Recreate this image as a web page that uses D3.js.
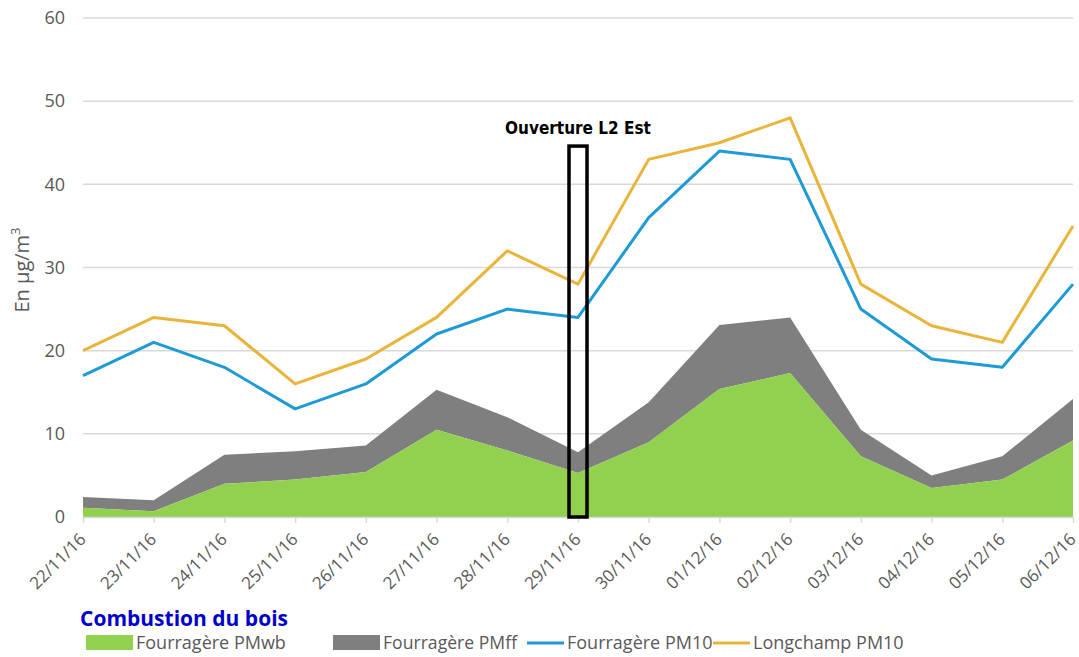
<!DOCTYPE html>
<html>
<head>
<meta charset="utf-8">
<script src="https://cdn.jsdelivr.net/npm/d3@7"></script>
<style>
  body { margin:0; background:#fff; }
  svg { font-family: "Open Sans", sans-serif; }
</style>
</head>
<body>
<div id="chart-area"></div>
<script>
// data
const dates = ["22/11/16","23/11/16","24/11/16","25/11/16","26/11/16","27/11/16","28/11/16",
  "29/11/16","30/11/16","01/12/16","02/12/16","03/12/16","04/12/16","05/12/16","06/12/16"];
const pmwb = [1.1, 0.7, 4.0, 4.5, 5.4, 10.5, 8.0, 5.3, 9.0, 15.4, 17.3, 7.3, 3.5, 4.5, 9.2];
const pmff = [1.3, 1.3, 3.5, 3.4, 3.2, 4.8, 4.0, 2.5, 4.8, 7.7, 6.7, 3.2, 1.5, 2.8, 5.0];
const pm10Fourragere = [17, 21, 18, 13, 16, 22, 25, 24, 36, 44, 43, 25, 19, 18, 28];
const pm10Longchamp = [20, 24, 23, 16, 19, 24, 32, 28, 43, 45, 48, 28, 23, 21, 35];
const yTicks = [0, 10, 20, 30, 40, 50, 60];
const eventDate = "29/11/16";
const eventLabel = "Ouverture L2 Est";

const margin = { left:83, right:6, top:18, bottom:140 };
const W = 1079, H = 657;
const width = W - margin.left - margin.right,
    height = H - margin.top - margin.bottom;

const colGreen = "#92d050", colGrey = "#7f7f7f", colBlue = "#1e9ad6", colOrange = "#e9b43a", txt = "#595959";

var svg = d3.select("#chart-area")
    .append("svg")
    .attr("width", W)
    .attr("height", H);

const g = svg.append("g")
    .attr("transform", "translate(" + margin.left + ", " + margin.top + ")");

const x = d3.scalePoint().domain(dates).range([0, width]);
const y = d3.scaleLinear().domain([0, 60]).range([height, 0]);

// gridlines
g.selectAll(".grid").data(yTicks.filter(d => d > 0)).enter()
  .append("line")
    .attr("x1", 0).attr("x2", width)
    .attr("y1", d => y(d)).attr("y2", d => y(d))
    .attr("stroke", "#d9d9d9").attr("stroke-width", 1.5);

// y tick labels
g.selectAll(".ylab").data(yTicks).enter()
  .append("text")
    .attr("x", -18).attr("y", d => y(d)).attr("dy", "0.35em")
    .attr("text-anchor", "end")
    .attr("font-size", "18px").attr("fill", txt)
    .text(d => d);

// stacked areas
const stack = dates.map((d, i) => ({ d: d, wb: pmwb[i], top: pmwb[i] + pmff[i] }));
g.append("path").datum(stack)
  .attr("fill", colGrey)
  .attr("d", d3.area().x(d => x(d.d)).y0(d => y(d.wb)).y1(d => y(d.top)));
g.append("path").datum(stack)
  .attr("fill", colGreen)
  .attr("d", d3.area().x(d => x(d.d)).y0(y(0)).y1(d => y(d.wb)));

// x axis
var xAxisCall = d3.axisBottom(x).tickSize(6).tickSizeOuter(0).tickPadding(4);
const xa = g.append("g")
    .attr("class", "x axis")
    .attr("transform", "translate(0, " + height + ")")
    .call(xAxisCall);
xa.select(".domain").attr("stroke", "#d9d9d9").attr("stroke-width", 1.5);
xa.selectAll(".tick line").attr("stroke", "#d9d9d9").attr("stroke-width", 1.5);
xa.selectAll(".tick text")
    .attr("font-size", "17px").attr("fill", txt)
    .attr("font-family", "Open Sans, sans-serif")
    .attr("text-anchor", "end")
    .attr("dy", "0.35em")
    .attr("transform", "translate(-8,12) rotate(-45)");

// lines
const line = d3.line().x((d, i) => x(dates[i])).y(d => y(d));
g.append("path").datum(pm10Fourragere)
  .attr("fill", "none").attr("stroke", colBlue).attr("stroke-width", 3)
  .attr("stroke-linejoin", "round").attr("d", line);
g.append("path").datum(pm10Longchamp)
  .attr("fill", "none").attr("stroke", colOrange).attr("stroke-width", 3)
  .attr("stroke-linejoin", "round").attr("d", line);

// event marker
const ex = x(eventDate);
g.append("rect")
  .attr("x", ex - 9).attr("y", y(44.6)).attr("width", 18).attr("height", y(0) - y(44.6))
  .attr("fill", "none").attr("stroke", "#000").attr("stroke-width", 3.5);
g.append("text")
  .attr("x", ex).attr("y", y(46.1))
  .attr("text-anchor", "middle")
  .attr("font-family", "DejaVu Sans Condensed, Liberation Sans Narrow, sans-serif")
  .attr("font-weight", "bold").attr("font-size", "17px").attr("fill", "#000")
  .text(eventLabel);

// y axis label
svg.append("text")
  .attr("transform", "translate(29, 270) rotate(-90)")
  .attr("text-anchor", "middle")
  .attr("font-size", "20px").attr("fill", txt)
  .html("En µg/m<tspan baseline-shift='super' font-size='13px'>3</tspan>");

// title + legend
svg.append("text")
  .attr("x", 80).attr("y", 626)
  .attr("font-size", "21px").attr("font-weight", "bold").attr("fill", "#0000cc")
  .text("Combustion du bois");

const legend = [
  { name: "Fourragère PMwb", color: colGreen, type: "rect", x: 86 },
  { name: "Fourragère PMff", color: colGrey, type: "rect", x: 333 },
  { name: "Fourragère PM10", color: colBlue, type: "line", x: 527 },
  { name: "Longchamp PM10", color: colOrange, type: "line", x: 713 }
];
const lg = svg.selectAll(".legend").data(legend).enter().append("g")
  .attr("transform", d => "translate(" + d.x + ", 643)");
lg.filter(d => d.type === "rect").append("rect")
  .attr("x", 0).attr("y", -8).attr("width", 47).attr("height", 15)
  .attr("fill", d => d.color);
lg.filter(d => d.type === "line").append("line")
  .attr("x1", 0).attr("x2", 37).attr("y1", 0).attr("y2", 0)
  .attr("stroke", d => d.color).attr("stroke-width", 3);
lg.append("text")
  .attr("x", d => d.type === "rect" ? 50 : 40).attr("y", 0).attr("dy", "0.35em")
  .attr("font-size", "18px").attr("fill", txt)
  .text(d => d.name);
// squeeze the grey entry so it stays clear of the blue line
lg.selectAll("text").filter(d => d.name === "Fourragère PMff")
  .attr("textLength", 134).attr("lengthAdjust", "spacingAndGlyphs");
</script>
</body>
</html>
